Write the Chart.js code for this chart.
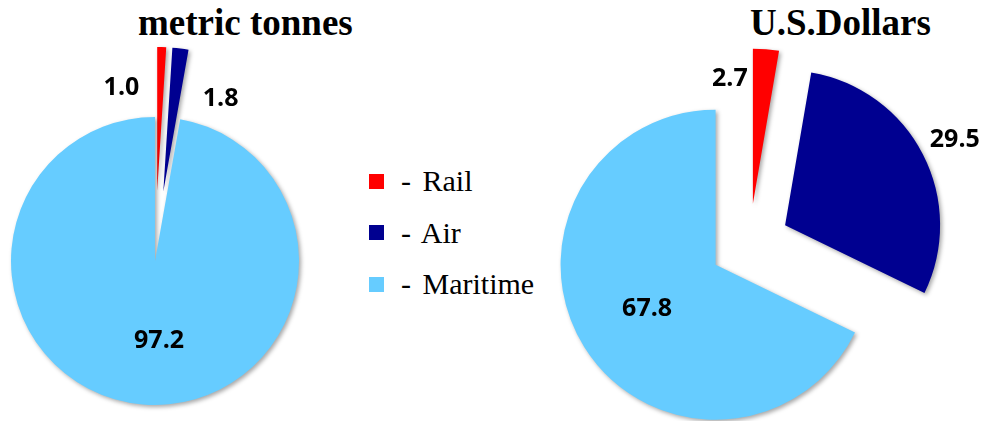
<!DOCTYPE html>
<html>
<head>
<meta charset="utf-8">
<script src="https://cdn.jsdelivr.net/npm/chart.js@4.4.1/dist/chart.umd.min.js"></script>
<style>
  html, body { margin: 0; padding: 0; background: #fff; }
  #page { position: relative; width: 984px; height: 421px; overflow: hidden; }
  .pie { position: absolute; top: 0; height: 421px; }
  .title { position: absolute; top: 4px; font: bold 37px "Liberation Serif", "Times New Roman", serif; line-height: 37px; white-space: nowrap; color: #000; }
  .legend { position: absolute; left: 369px; top: 0; }
  .legend .item { position: absolute; left: 0; white-space: nowrap; }
  .legend .color-sample { position: absolute; left: 0; top: -7.5px; width: 15px; height: 15px; }
  .legend .text-node { position: absolute; left: 32px; top: -15px; font: 30px "Liberation Serif", "Times New Roman", serif; word-spacing: 4px; line-height: 30px; color: #000; }
</style>
</head>
<body>
<div id="page">
  <div class="title" style="left:138px">metric tonnes</div>
  <div class="title" style="left:750px">U.S.Dollars</div>
  <div class="pie" style="left:0;width:310px"><canvas id="chart-tonnes"></canvas></div>
  <div class="pie" style="left:540px;width:444px"><canvas id="chart-dollars"></canvas></div>
  <div id="legend-modes" class="legend"></div>
</div>
<script>
var modes = ['Rail', 'Air', 'Maritime'];
var modeColors = ['#FF0000', '#000090', '#66CCFF'];
var tonnesShare = [1.0, 1.8, 97.2];
var dollarsShare = [2.7, 29.5, 67.8];

// pulls every slice out from the centre along its own bisector,
// puts a soft shadow under the slices and writes the value labels
var piePlugin = {
  id: 'pieExtras',
  afterDatasetUpdate: function(chart, args, opts) {
    args.meta.data.forEach(function(arc, i) {
      var d = opts.explode[i] || 0;
      var mid = (arc.startAngle + arc.endAngle) / 2;
      arc.x += d * Math.cos(mid);
      arc.y += d * Math.sin(mid);
    });
  },
  beforeDatasetsDraw: function(chart) {
    var ctx = chart.ctx;
    ctx.save();
    ctx.shadowColor = 'rgba(0,0,0,0.35)';
    ctx.shadowBlur = 4;
    ctx.shadowOffsetX = 2;
    ctx.shadowOffsetY = 2;
  },
  afterDatasetsDraw: function(chart, args, opts) {
    var ctx = chart.ctx;
    ctx.restore();
    var meta = chart.getDatasetMeta(0);
    var values = chart.data.datasets[0].data;
    ctx.save();
    ctx.font = 'bold 25px "Open Sans", "DejaVu Sans", sans-serif';
    ctx.fillStyle = '#000';
    ctx.textAlign = 'center';
    ctx.textBaseline = 'alphabetic';
    meta.data.forEach(function(arc, i) {
      var p = opts.labelAt[i];
      var a = p[0] * Math.PI / 180;
      var r = p[1] * arc.outerRadius;
      ctx.fillText(values[i].toFixed(1), arc.x + r * Math.sin(a), arc.y - r * Math.cos(a) + 9);
    });
    ctx.restore();
  }
};

function makePie(id, values, radius, padding, explode, labelAt) {
  var ctx = document.getElementById(id).getContext('2d');
  return new Chart(ctx, {
    type: 'pie',
    data: {
      labels: modes,
      datasets: [{
        data: values,
        backgroundColor: modeColors,
        borderWidth: 0
      }]
    },
    options: {
      responsive: true,
      maintainAspectRatio: false,
      animation: false,
      events: [],
      radius: radius,
      layout: { padding: padding },
      plugins: {
        legend: { display: false },
        tooltip: { enabled: false },
        pieExtras: { explode: explode, labelAt: labelAt }
      }
    },
    plugins: [piePlugin]
  });
}

// label spot for each slice: [degrees clockwise from 12 o'clock, fraction of radius]
makePie('chart-tonnes', tonnesShare, 144, { top: 101 },
  [70, 70, 0],
  [[-18.8, 0.77], [31.1, 0.77], [177, 0.54]]);

makePie('chart-dollars', dollarsShare, 155, { top: 66, right: 25 },
  [40, 40, 40],
  [[-10.3, 0.83], [62.9, 1.23], [238.2, 0.52]]);

function buildLegend(parent) {
  var rowTop = 181;
  var rowGap = 51.5;
  while (parent.hasChildNodes()) {
    parent.removeChild(parent.lastChild);
  }
  modes.forEach(function(label, i) {
    var item = document.createElement('div');
    item.className = 'item';
    item.style.top = (rowTop + i * rowGap) + 'px';

    var colorSample = document.createElement('div');
    colorSample.className = 'color-sample';
    colorSample.style.backgroundColor = modeColors[i];
    item.appendChild(colorSample);

    var text = document.createElement('div');
    text.className = 'text-node';
    text.textContent = '- ' + label;
    item.appendChild(text);

    parent.appendChild(item);
  });
}

buildLegend(document.getElementById('legend-modes'));
</script>
</body>
</html>
